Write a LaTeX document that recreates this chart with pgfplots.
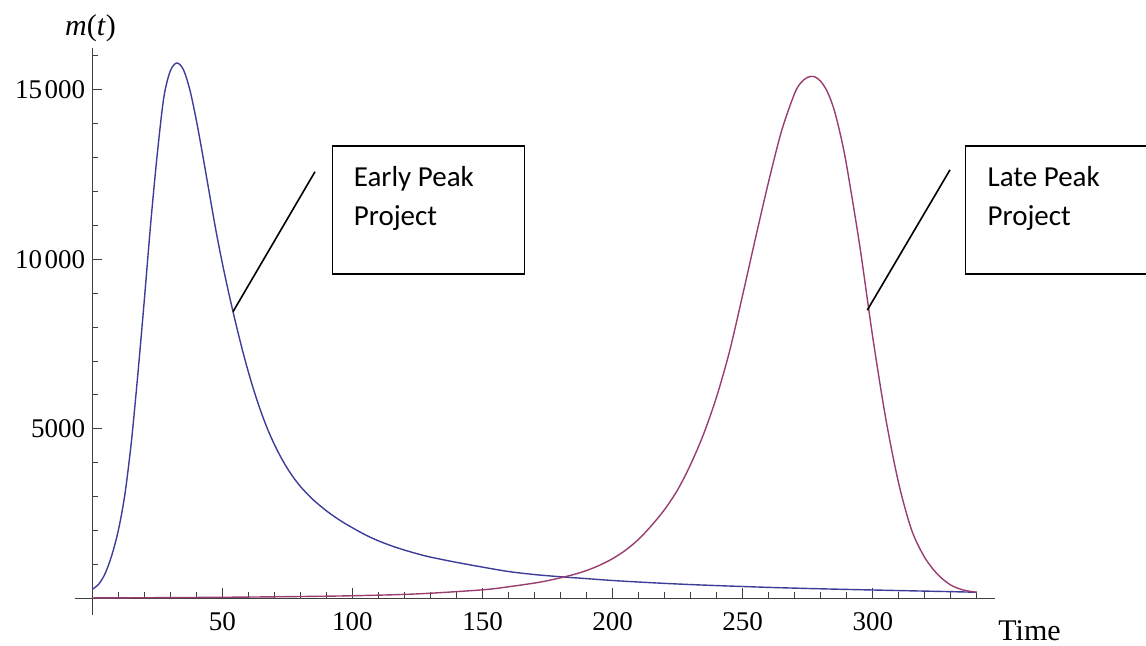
\documentclass[border=0pt]{standalone}
\usepackage{fontspec}
\setmainfont{Liberation Serif}
\newfontfamily\calloutfont{Carlito}
\usepackage{pgfplots}
\pgfplotsset{compat=1.18}
\definecolor{mblue}{rgb}{0.24,0.24,0.6}
\definecolor{mred}{rgb}{0.6,0.24,0.443}
\begin{document}
\begin{tikzpicture}
\begin{axis}[
  scale only axis, width=459.95pt, height=283.5pt,
  xmin=-6.8, xmax=346.8, ymin=-493, ymax=16233,
  axis lines=left,
  axis x line shift=-8.356pt, axis y line shift=-8.845pt,
  axis line style={-, black!75, line width=0.5pt},
  tick align=inside, major tick length=5pt, minor tick length=3pt,
  tick style={black!75, line width=0.5pt},
  xtick={50,100,150,200,250,300}, xticklabels={50,100,150,200,250,300},
  minor xtick={10,20,...,340},
  ytick={5000,10000,15000}, yticklabels={5000,10\hspace{0.1em}000,15\hspace{0.1em}000},
  minor ytick={1000,2000,...,16000},
  scaled y ticks=false,
  tick label style={font=\fontsize{13.5}{16}\selectfont},
  xticklabel style={yshift=-3.5pt},
  /pgf/number format/assume math mode=true,
  clip=false,
]
\addplot[mblue, line width=0.7pt, smooth] coordinates {
(0,264) (2.5,420) (5,740) (7.5,1270) (10,2000) (12.5,3050) (15,4600) (17.5,6600)
(20,8800) (22.5,11100) (25,13120) (27.5,14780) (30,15560) (32.5,15790) (35,15600)
(37.5,15000) (40,14100) (42.5,13050) (45,11950) (47.5,10860) (50,9880) (52.5,8990)
(55,8160) (57.5,7383) (60,6675) (62.5,6038) (65,5468) (67.5,4968) (70,4538)
(72.5,4160) (75,3830) (77.5,3545) (80,3300) (82.5,3090) (85,2900) (87.5,2735)
(90,2580) (92.5,2440) (95,2310) (97.5,2190) (100,2080) (105,1870) (110,1695)
(115,1548) (120,1422) (125,1312) (130,1215) (140,1060) (150,920) (160,790)
(170,700) (180,635) (190,580) (200,525) (210,480) (220,440) (230,405) (240,375)
(250,348) (260,322) (270,300) (280,280) (290,262) (300,245) (310,228) (320,212)
(330,196) (340,178)
};
\addplot[mred, line width=0.7pt, smooth] coordinates {
(0,10) (25,18) (50,30) (75,48) (100,75) (125,130) (150,250) (160,340) (170,450)
(175,520) (180,605) (185,700) (190,820) (195,975) (200,1170) (205,1420) (210,1740)
(215,2150) (220,2620) (225,3200) (230,3950) (235,4850) (240,5950) (245,7300)
(250,8950) (255,10650) (260,12300) (265,13800) (270,14900) (272.5,15220)
(275,15370) (277.5,15390) (280,15250) (282.5,14950) (285,14450) (287.5,13700)
(290,12750) (295,10400) (300,7700) (305,5300) (310,3380) (315,2000) (320,1200)
(325,700) (330,390) (335,240) (340,178)
};
% callouts
\draw[black, line width=0.8pt] (axis cs:54.1,8455) -- (axis cs:85.6,12584);
\draw[black, line width=0.8pt] (axis cs:297.9,8500) -- (axis cs:329.7,12640);
\draw[black, line width=0.6pt] (axis cs:92.3,9566) rectangle (axis cs:166.2,13342);
\draw[black, line width=0.6pt] (axis cs:335.7,9566) rectangle (axis cs:430,13342);
\node[anchor=base west, inner sep=0, align=left, yshift=-19.7pt, font=\calloutfont\fontsize{14.5}{19.7}\selectfont]
  at (axis cs:100.4,12150) {Early Peak\\Project};
\node[anchor=base west, inner sep=0, align=left, yshift=-19.7pt, font=\calloutfont\fontsize{14.5}{19.7}\selectfont]
  at (axis cs:344,12150) {Late Peak\\Project};
% axis labels
\node[anchor=base west, inner sep=0, font=\fontsize{15}{18}\selectfont, xshift=1.75pt, yshift=-21.2pt]
  at (axis cs:346.8,0) {Time};
\node[anchor=base, inner sep=0, font=\fontsize{15}{18}\selectfont, yshift=6.15pt]
  at (axis cs:-0.7,16233) {\textit{m}(\textit{t})};
\end{axis}
\pgfresetboundingbox
\path ([xshift=-37.3pt,yshift=-15pt]current axis.south west) rectangle ++(573pt,322.5pt);
\end{tikzpicture}
\end{document}
